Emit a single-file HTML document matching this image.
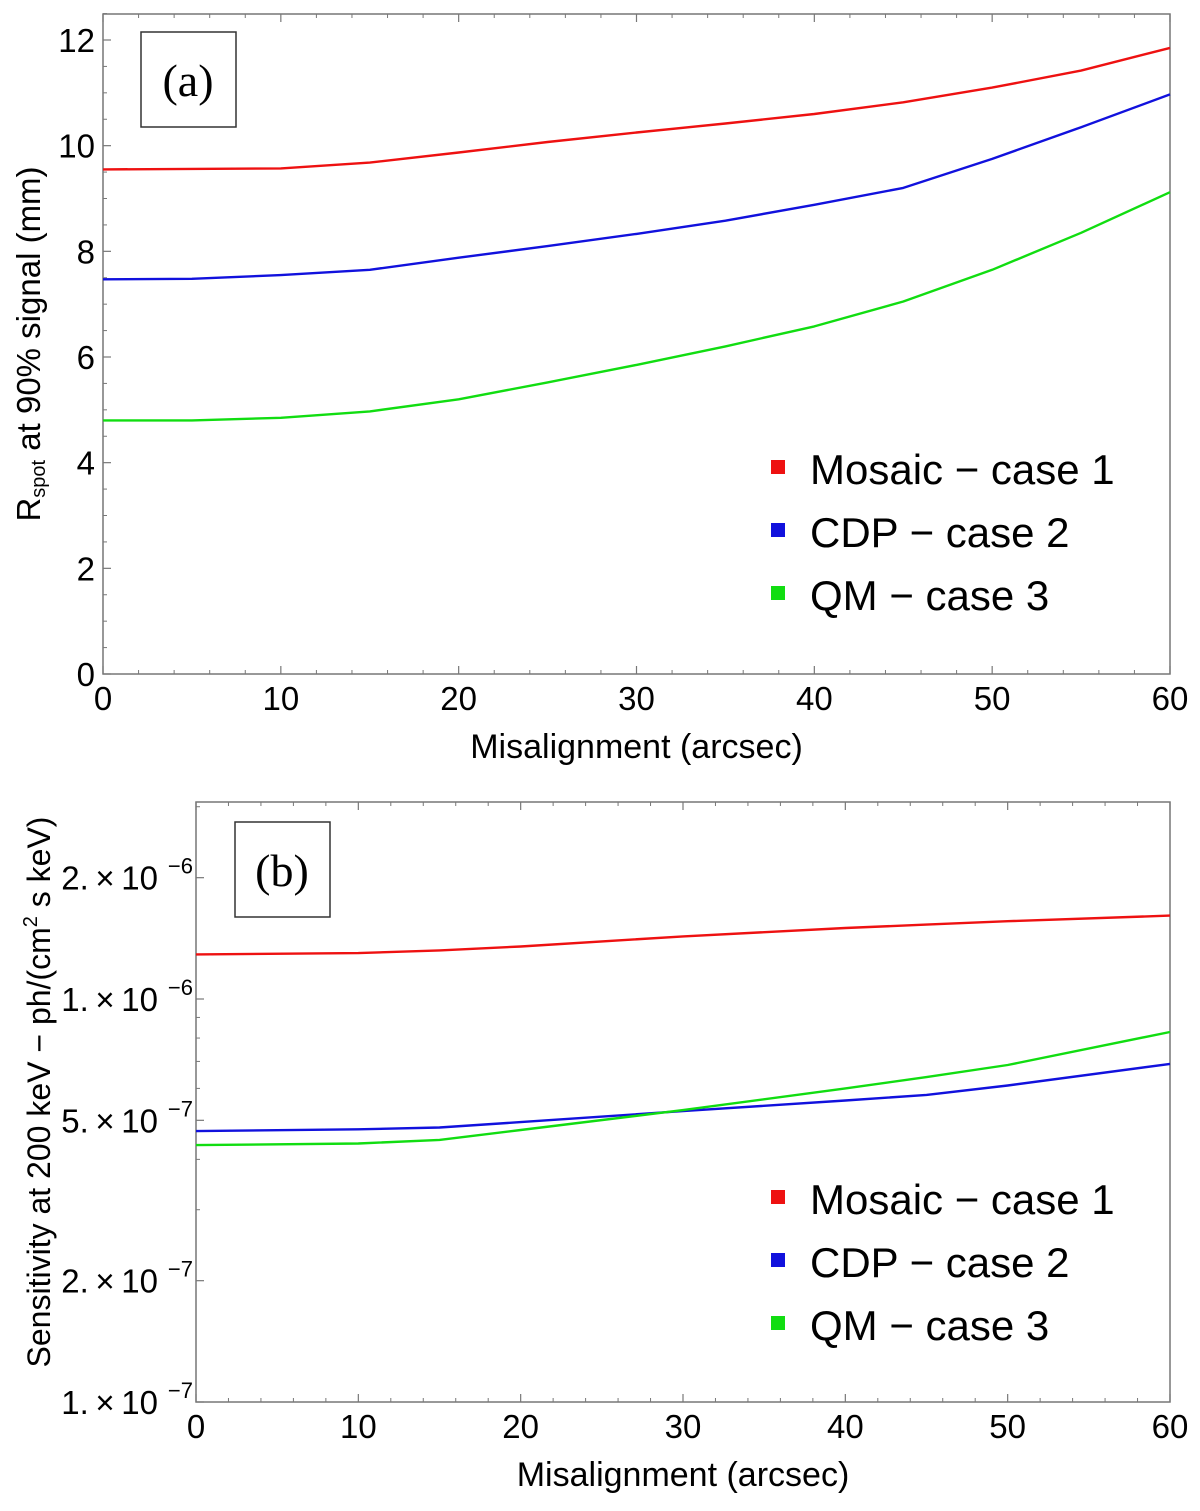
<!DOCTYPE html>
<html><head><meta charset="utf-8"><style>
body{margin:0;background:#fff}
svg text{font-family:"Liberation Sans",sans-serif;fill:#000}
</style></head><body>
<svg width="1200" height="1506" xmlns="http://www.w3.org/2000/svg">
<g id="a"></g>
<g id="b"></g>
</svg>
<script>
const xsA=[0,5,10,15,20,25,30,35,40,45,50,55,60];
const redA=[9.55,9.56,9.57,9.68,9.87,10.07,10.25,10.42,10.6,10.82,11.1,11.42,11.85];
const blueA=[7.47,7.48,7.55,7.65,7.88,8.1,8.33,8.58,8.88,9.2,9.75,10.35,10.97];
const greenA=[4.8,4.8,4.85,4.97,5.2,5.52,5.85,6.2,6.58,7.05,7.65,8.35,9.12];
const xsB=[0,10,15,20,30,40,45,50,60];
const redB=[1.29e-6,1.3e-6,1.32e-6,1.35e-6,1.43e-6,1.5e-6,1.53e-6,1.56e-6,1.61e-6];
const blueB=[4.7e-7,4.75e-7,4.8e-7,4.95e-7,5.27e-7,5.6e-7,5.78e-7,6.1e-7,6.9e-7];
const greenB=[4.34e-7,4.38e-7,4.47e-7,4.73e-7,5.3e-7,6.0e-7,6.4e-7,6.86e-7,8.28e-7];
const xTicks=[0,10,20,30,40,50,60];
const yTicksA=[0,2,4,6,8,10,12];
const yTicksB=[1e-7,2e-7,5e-7,1e-6,2e-6];
const yTickLabelsB=["1.","2.","5.","1.","2."];
const yTickExpB=["\u22127","\u22127","\u22127","\u22126","\u22126"];
const legendLabels=["Mosaic \u2212 case 1","CDP \u2212 case 2","QM \u2212 case 3"];
const colors=["#ee1111","#1111dd","#11dd11"];
const NS="http://www.w3.org/2000/svg";
function el(t,a,p){const e=document.createElementNS(NS,t);for(const k in a)e.setAttribute(k,a[k]);p.appendChild(e);return e;}

function panel(g,L,R,T,B,xf,yf,yticks,ylab,series,xs,label,box,legY,minor,ytitle){
  el('rect',{x:L,y:T,width:R-L,height:B-T,fill:'none',stroke:'#777','stroke-width':1.5},g);
  xTicks.forEach(v=>{const x=xf(v);
    el('line',{x1:x,y1:B,x2:x,y2:B-8,stroke:'#777','stroke-width':1.2},g);
    el('line',{x1:x,y1:T,x2:x,y2:T+8,stroke:'#777','stroke-width':1.2},g);
    const t=el('text',{x:x,y:B+36,'font-size':33,'text-anchor':'middle'},g);t.textContent=v;
    
    
  });
  for(let v=2;v<60;v+=2){if(v%10){const x=xf(v);
    el('line',{x1:x,y1:B,x2:x,y2:B-4,stroke:'#777'},g);el('line',{x1:x,y1:T,x2:x,y2:T+4,stroke:'#777'},g);}}
  minor.forEach(v=>{const y=yf(v);el('line',{x1:L,y1:y,x2:L+4,y2:y,stroke:'#777'},g);});
  yticks.forEach((v,i)=>{const y=yf(v);
    el('line',{x1:L,y1:y,x2:L+8,y2:y,stroke:'#777','stroke-width':1.2},g);
    const t=el('text',{x:L-8,y:y+12,'font-size':33,'text-anchor':'end'},g);
    
    
    ylab(t,v,i);
  });
  const xt=el('text',{x:(L+R)/2,y:B+84,'font-size':34,'text-anchor':'middle'},g);xt.textContent='Misalignment (arcsec)';
  
  
  ytitle(g);
  series.forEach((s,i)=>{
    const d=s.map((v,j)=>(j?'L':'M')+xf(xs[j]).toFixed(1)+','+yf(v).toFixed(1)).join(' ');
    const p=el('path',{d:d,fill:'none',stroke:colors[i],'stroke-width':2.4,'stroke-linejoin':'round'},g);
    
    
  });
  const bx=el('rect',{x:box[0],y:box[1],width:95,height:95,fill:'#fff',stroke:'#333','stroke-width':1.5},g);
  
  
  const lt=el('text',{x:box[0]+47,y:box[1]+64,'font-size':46,'text-anchor':'middle',style:'font-family:"Liberation Serif",serif'},g);lt.textContent=label;
  
  
  legendLabels.forEach((s,i)=>{const y=legY+i*63;
    const sq=el('rect',{x:771,y:y-24,width:14,height:14,fill:colors[i]},g);
    
    
    const t=el('text',{x:810,y:y,'font-size':42},g);t.textContent=s;
    
    
  });
}
// panel a
(function(){
  const L=103,R=1170,T=14,B=674;
  const xf=v=>L+v*(R-L)/60, yf=v=>B-v*(674-40)/12;
  const minor=[];for(let v=0.5;v<12.6;v+=0.5)if(v%2)minor.push(v);
  panel(document.getElementById('a'),L,R,T,B,xf,yf,yTicksA,(t,v)=>{t.textContent=v;},
    [redA,blueA,greenA],xsA,'(a)',[141,32],484,minor,g=>{
      const t=el('text',{transform:'translate(40,344) rotate(-90)','font-size':33,'text-anchor':'middle'},g);
      t.innerHTML='R<tspan font-size="20" dy="5">spot</tspan><tspan dy="-5"> at 90% signal (mm)</tspan>';
      
      
    });
})();
// panel b
(function(){
  const L=196,R=1170,T=802,B=1402;
  const xf=v=>L+v*(R-L)/60, yf=v=>B-(Math.log10(v)+7)*403;
  const minor=[];[3e-7,4e-7,6e-7,7e-7,8e-7,9e-7,3e-6].forEach(v=>minor.push(v));
  panel(document.getElementById('b'),L,R,T,B,xf,yf,yTicksB,(t,v,i)=>{
      t.setAttribute('x',L-38);
      t.innerHTML=yTickLabelsB[i]+'\u2009\u00d7\u200910';
      const e=el('text',{x:L-3,y:yf(v)-4,'font-size':22,'text-anchor':'end'},t.parentNode);e.textContent=yTickExpB[i];
    },[redB,blueB,greenB],xsB,'(b)',[235,822],1214,minor,g=>{
      const t=el('text',{transform:'translate(50,1092) rotate(-90)','font-size':32,'text-anchor':'middle'},g);
      t.innerHTML='Sensitivity at 200 keV \u2212 ph/(cm<tspan font-size="20" dy="-13">2</tspan><tspan dy="13"> s keV)</tspan>';
      
      
    });
})();
</script>
</body></html>
